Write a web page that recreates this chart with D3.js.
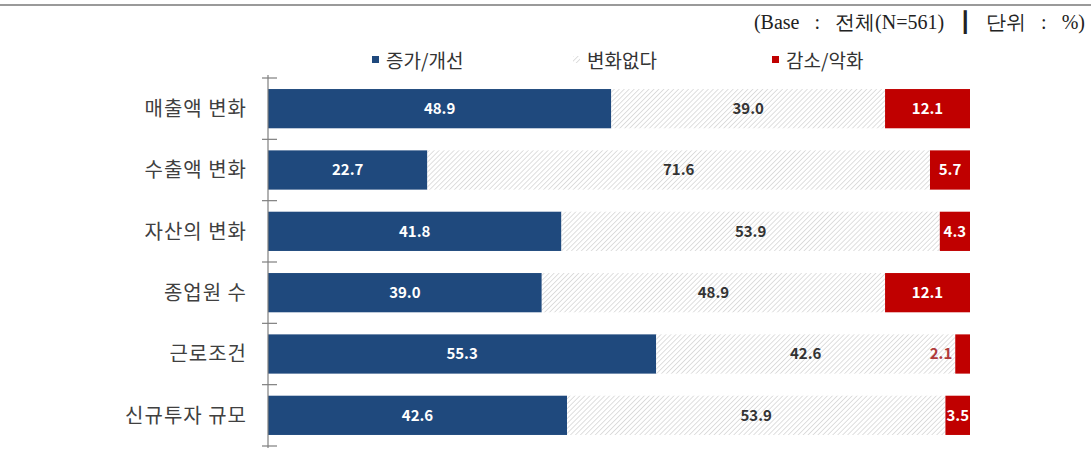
<!DOCTYPE html>
<html><head><meta charset="utf-8">
<script src="https://cdn.jsdelivr.net/npm/d3@7"></script>
<style>
html,body{margin:0;padding:0;background:#fff;}
svg{display:block;}
</style></head>
<body>
<script>
const categories = ["매출액 변화","수출액 변화","자산의 변화","종업원 수","근로조건","신규투자 규모"];
const seriesNames = ["증가/개선","변화없다","감소/악화"];
const increase = [48.9,22.7,41.8,39.0,55.3,42.6];
const noChange = [39.0,71.6,53.9,48.9,42.6,53.9];
const decrease = [12.1,5.7,4.3,12.1,2.1,3.5];
const baseNote = "(Base   :   전체(N=561)   ┃   단위   :   %)";

const W = 1091, H = 454;
const svg = d3.select("body").append("svg").attr("width", W).attr("height", H);
const defs = svg.append("defs");
const pat = defs.append("pattern").attr("id","hatch").attr("patternUnits","userSpaceOnUse")
  .attr("width",3.5).attr("height",3.5).attr("patternTransform","rotate(45)");
pat.append("rect").attr("width",3.5).attr("height",3.5).attr("fill","#ffffff");
pat.append("line").attr("x1",0).attr("y1",0).attr("x2",0).attr("y2",3.5).attr("stroke","#c9c9c9").attr("stroke-width",1.2);

// top rule
svg.append("line").attr("x1",0).attr("x2",W).attr("y1",5).attr("y2",5).attr("stroke","#9a9a9a").attr("stroke-width",2);
svg.append("text").attr("x",1085).attr("y",29).attr("text-anchor","end")
  .attr("font-family","'Liberation Serif','DejaVu Serif',serif").attr("font-size",20).attr("fill","#222")
  .style("white-space","pre")
  .text(baseNote);

const x = d3.scaleLinear().domain([0,100]).range([268,970]);
const y = d3.scaleBand().domain(categories).range([78,446]).paddingInner(0.36).paddingOuter(0.18);

const colors = ["#1f497d","url(#hatch)","#c00000"];
const rows = categories.map((c,i)=>{
  const vals = [increase[i], noChange[i], decrease[i]];
  let acc = 0;
  return vals.map((v,k)=>{ const s = {cat:c, k, v, x0:acc, x1:acc+v}; acc += v; return s; });
});

const g = svg.append("g");
rows.forEach(segs=>{
  segs.forEach(s=>{
    g.append("rect").attr("x",x(s.x0)).attr("y",y(s.cat)).attr("width",x(s.x1)-x(s.x0))
      .attr("height",y.bandwidth()).attr("fill",colors[s.k]);
  });
});
rows.forEach(segs=>{
  segs.forEach(s=>{
    let tx = (x(s.x0)+x(s.x1))/2, anchor="middle", fill = s.k===1 ? "#333" : "#fff";
    if (s.k===2 && s.v < 3) { tx = x(s.x0)-3; anchor="end"; fill="#b03a3a"; }
    g.append("text").attr("x",tx).attr("y",y(s.cat)+y.bandwidth()/2).attr("dy","0.36em")
      .attr("text-anchor",anchor).attr("font-family","'Noto Sans CJK KR','Noto Sans',sans-serif")
      .attr("font-size",15).attr("font-weight",700).attr("fill",fill).text(s.v.toFixed(1));
  });
});

// axis
const ax = svg.append("g");
ax.append("line").attr("x1",268).attr("x2",268).attr("y1",75).attr("y2",448).attr("stroke","#7f7f7f").attr("stroke-width",1.2);
d3.range(categories.length+1).forEach(i=>{
  const ty = 78 + i*(368/categories.length);
  ax.append("line").attr("x1",262).attr("x2",277).attr("y1",ty).attr("y2",ty).attr("stroke","#7f7f7f").attr("stroke-width",1.2);
});
categories.forEach(c=>{
  ax.append("text").attr("x",247).attr("y",y(c)+y.bandwidth()/2).attr("dy","0.36em").attr("text-anchor","end")
    .attr("font-family","'Noto Sans CJK KR',sans-serif").attr("font-size",20).attr("letter-spacing",1).attr("fill","#404040").text(c);
});

// legend
const legX = [372,573,772];
const leg = svg.append("g");
seriesNames.forEach((n,i)=>{
  leg.append("rect").attr("x",legX[i]).attr("y",56).attr("width",7).attr("height",7).attr("fill",colors[i]);
  leg.append("text").attr("x",legX[i]+14).attr("y",61).attr("dy","0.36em")
    .attr("font-family","'Noto Sans CJK KR',sans-serif").attr("font-size",19).attr("fill","#333").text(n);
});
</script>
</body></html>
